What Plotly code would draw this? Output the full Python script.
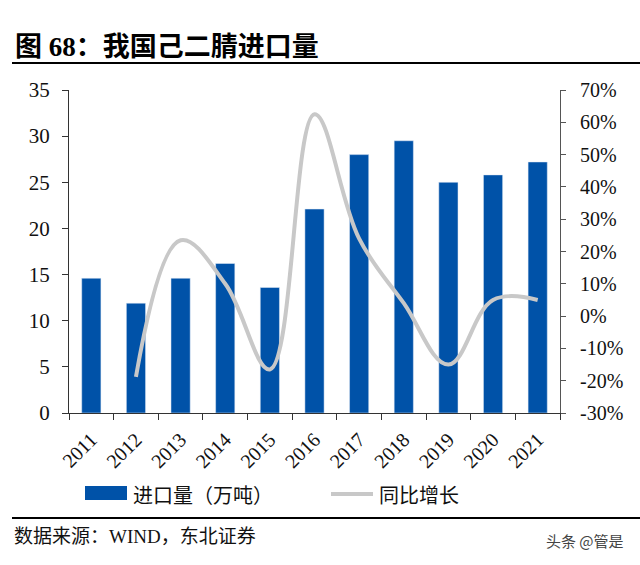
import plotly.graph_objects as go

years = ["2011", "2012", "2013", "2014", "2015", "2016", "2017", "2018", "2019", "2020", "2021"]
imports = [14.6, 11.9, 14.6, 16.2, 13.6, 22.1, 28.0, 29.5, 25.0, 25.8, 27.2]
growth = [None, -18.8, 23.5, 10.0, -16.5, 62.5, 24.0, 4.0, -15.0, 5.0, 5.0]

left_ticks = [0, 5, 10, 15, 20, 25, 30, 35]
right_ticks = [-30, -20, -10, 0, 10, 20, 30, 40, 50, 60, 70]
right_labels = [f"{v}%" for v in right_ticks]

W, H = 640, 565
L, R, T, B = 69, 560, 90, 413

def px(x):
    return (x - L) / (R - L)

def py(y):
    return (B - y) / (B - T)

serif = "Liberation Serif, Noto Sans CJK SC"
cjk = "Noto Sans CJK SC, Liberation Serif"

fig = go.Figure()
fig.add_trace(go.Bar(x=years, y=imports, marker_color="#0052A8", width=0.43,
                     name="进口量（万吨）", showlegend=False))
fig.add_trace(go.Scatter(x=years, y=growth, yaxis="y2", mode="lines",
                         line=dict(color="#C8C8C8", width=4, shape="spline", smoothing=1.1),
                         name="同比增长", showlegend=False, connectgaps=False))

fig.update_layout(
    width=W, height=H,
    margin=dict(l=L, r=W - R, t=T, b=H - B, pad=0),
    paper_bgcolor="white", plot_bgcolor="white",
    xaxis=dict(type="category", showline=True, linecolor="#333", linewidth=1,
               ticks="outside", ticklen=6, tickcolor="#333", tickson="boundaries",
               tickangle=-45, ticklabelstandoff=6,
               tickfont=dict(family=serif, size=20, color="#111"),
               showgrid=False),
    yaxis=dict(range=[0, 35], tickvals=left_ticks, showline=True, linecolor="#333",
               linewidth=1, ticks="outside", ticklen=6, tickcolor="#333",
               ticklabelstandoff=8,
               tickfont=dict(family=serif, size=21, color="#111"), showgrid=False,
               zeroline=False),
    yaxis2=dict(range=[-30, 70], tickvals=right_ticks, ticktext=right_labels,
                overlaying="y", side="right", showline=True, linecolor="#555",
                linewidth=1, ticks="outside", ticklen=5, tickcolor="#555",
                ticklabelstandoff=10,
                tickfont=dict(family=serif, size=20, color="#111"), showgrid=False,
                zeroline=False),
    bargap=0.57,
)

shapes = []
shapes.append(dict(type="line", xref="paper", yref="paper", x0=px(12), x1=px(640),
                   y0=py(63), y1=py(63), line=dict(color="black", width=2)))
shapes.append(dict(type="line", xref="paper", yref="paper", x0=px(12), x1=px(640),
                   y0=py(518), y1=py(518), line=dict(color="black", width=2)))
shapes.append(dict(type="rect", xref="paper", yref="paper", x0=px(85), x1=px(127),
                   y0=py(500), y1=py(486), fillcolor="#0052A8", line=dict(width=0)))
shapes.append(dict(type="line", xref="paper", yref="paper", x0=px(331), x1=px(373),
                   y0=py(494), y1=py(494), line=dict(color="#C8C8C8", width=4)))
fig.update_layout(shapes=shapes)

ann = [
    dict(text="<b>图 68：我国己二腈进口量</b>", x=px(13), y=py(47), xanchor="left", yanchor="middle",
         font=dict(family=serif, size=27, color="black")),
    dict(text="进口量（万吨）", x=px(131), y=py(494), xanchor="left", yanchor="middle",
         font=dict(family=cjk, size=20, color="#111")),
    dict(text="同比增长", x=px(377), y=py(494), xanchor="left", yanchor="middle",
         font=dict(family=cjk, size=20, color="#111")),
    dict(text="数据来源：WIND，东北证券", x=px(12), y=py(536), xanchor="left", yanchor="middle",
         font=dict(family=serif, size=19, color="#111")),
    dict(text="头条 @管是", x=px(626), y=py(540), xanchor="right", yanchor="middle",
         font=dict(family=cjk, size=15, color="#444")),
]
for a in ann:
    a.update(xref="paper", yref="paper", showarrow=False)
fig.update_layout(annotations=ann)

fig.write_html("out.html", config={"displayModeBar": False},
               post_script="document.body.style.margin='0';document.body.style.overflow='hidden';")
